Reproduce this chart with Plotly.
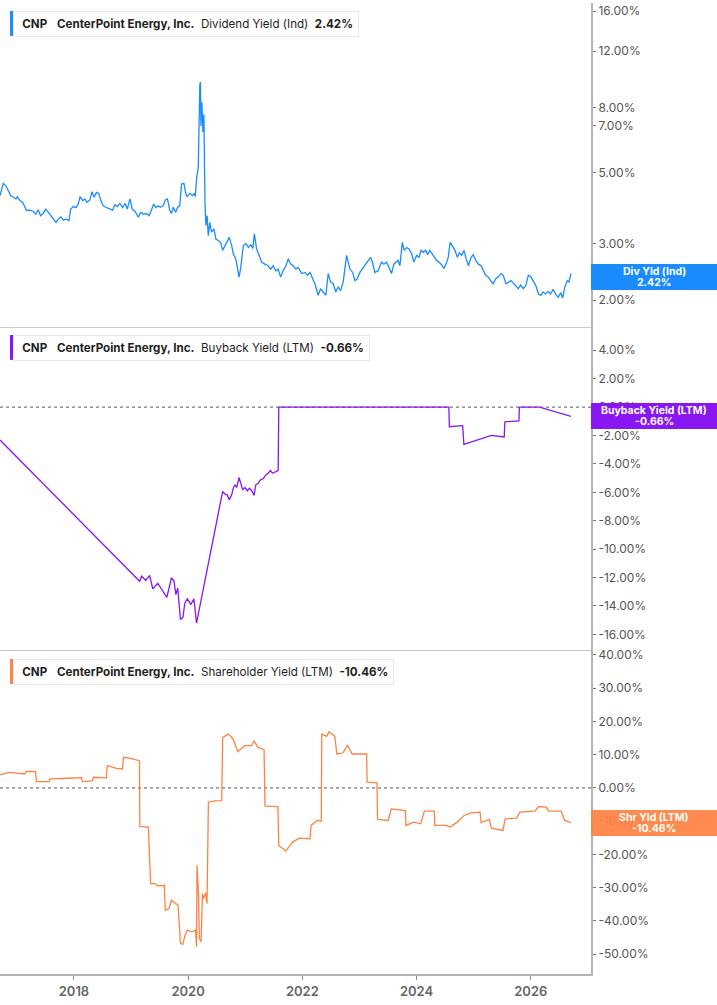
import math
import plotly.graph_objects as go
from plotly.subplots import make_subplots

# ---------------- data ----------------
div_dates = [
    "2016-09-15", "2016-09-26", "2016-10-06", "2016-10-23", "2016-11-07", "2016-11-22", "2016-12-09",
    "2016-12-26", "2017-01-04", "2017-01-21", "2017-02-07", "2017-02-22", "2017-03-04", "2017-03-24",
    "2017-04-15", "2017-05-02", "2017-05-17", "2017-06-01", "2017-06-18", "2017-07-05", "2017-07-20",
    "2017-08-11", "2017-09-08", "2017-09-23", "2017-10-08", "2017-10-25", "2017-11-15", "2017-11-30",
    "2017-12-11", "2017-12-28", "2018-01-14", "2018-01-29", "2018-02-09", "2018-02-26", "2018-03-11",
    "2018-03-26", "2018-04-13", "2018-04-27", "2018-05-10", "2018-05-25", "2018-06-09", "2018-06-22",
    "2018-07-07", "2018-07-24", "2018-08-14", "2018-09-05", "2018-09-20", "2018-10-05", "2018-10-22",
    "2018-11-08", "2018-11-25", "2018-12-08", "2018-12-25", "2019-01-09", "2019-01-26", "2019-02-17",
    "2019-03-03", "2019-03-23", "2019-04-10", "2019-04-27", "2019-05-11", "2019-05-26", "2019-06-08",
    "2019-06-23", "2019-07-08", "2019-07-25", "2019-08-09", "2019-08-22", "2019-09-06", "2019-09-17",
    "2019-09-28", "2019-10-13", "2019-10-26", "2019-11-09", "2019-11-20", "2019-12-05", "2019-12-18",
    "2019-12-26", "2020-01-12", "2020-01-30", "2020-02-10", "2020-02-16", "2020-02-25", "2020-03-06",
    "2020-03-16", "2020-03-20", "2020-03-23", "2020-03-29", "2020-04-05", "2020-04-11", "2020-04-18",
    "2020-04-24", "2020-05-02", "2020-05-09", "2020-05-19", "2020-05-30", "2020-06-14", "2020-06-27",
    "2020-07-11", "2020-07-27", "2020-08-09", "2020-08-24", "2020-09-07", "2020-09-20", "2020-10-06",
    "2020-10-16", "2020-11-01", "2020-11-11", "2020-11-22", "2020-12-03", "2020-12-19", "2021-01-05",
    "2021-01-21", "2021-02-05", "2021-02-18", "2021-02-28", "2021-03-14", "2021-03-30", "2021-04-15",
    "2021-05-06", "2021-05-27", "2021-06-11", "2021-06-28", "2021-07-15", "2021-07-30", "2021-08-15",
    "2021-08-31", "2021-09-18", "2021-10-02", "2021-10-18", "2021-11-03", "2021-11-21", "2021-12-06",
    "2021-12-28", "2022-01-18", "2022-02-02", "2022-02-19", "2022-03-08", "2022-03-22", "2022-04-12",
    "2022-04-27", "2022-05-14", "2022-05-31", "2022-06-15", "2022-06-30", "2022-07-17", "2022-08-03",
    "2022-08-18", "2022-09-02", "2022-09-19", "2022-10-11", "2022-11-01", "2022-11-19", "2022-12-03",
    "2022-12-18", "2023-01-04", "2023-01-26", "2023-02-12", "2023-02-27", "2023-03-13", "2023-03-25",
    "2023-04-09", "2023-04-30", "2023-05-22", "2023-06-06", "2023-06-23", "2023-07-09", "2023-07-25",
    "2023-08-09", "2023-09-05", "2023-09-17", "2023-10-02", "2023-10-14", "2023-10-30", "2023-11-14",
    "2023-12-01", "2023-12-15", "2024-01-02", "2024-01-17", "2024-01-30", "2024-02-14", "2024-02-29",
    "2024-03-12", "2024-03-26", "2024-04-10", "2024-04-23", "2024-05-08", "2024-05-23", "2024-06-09",
    "2024-06-24", "2024-07-07", "2024-07-22", "2024-08-03", "2024-08-16", "2024-09-03", "2024-09-18",
    "2024-10-01", "2024-10-16", "2024-10-31", "2024-11-13", "2024-11-28", "2024-12-15", "2024-12-29",
    "2025-01-14", "2025-01-31", "2025-02-17", "2025-03-04", "2025-03-17", "2025-04-03", "2025-04-21",
    "2025-05-05", "2025-05-20", "2025-06-07", "2025-06-24", "2025-07-09", "2025-07-26", "2025-08-10",
    "2025-08-27", "2025-09-11", "2025-09-26", "2025-10-13", "2025-10-28", "2025-11-14", "2025-11-30",
    "2025-12-16", "2026-01-02", "2026-01-17", "2026-02-02", "2026-02-19", "2026-03-06", "2026-03-21",
    "2026-04-05", "2026-04-22", "2026-05-07", "2026-05-24", "2026-06-08", "2026-06-25", "2026-07-12",
    "2026-07-23", "2026-08-07", "2026-08-22", "2026-09-02", "2026-09-15",
]
div_yield = [
    4.24, 4.50, 4.63, 4.55, 4.39, 4.24, 4.19,
    4.14, 4.21, 4.09, 4.04, 3.92, 3.81, 3.82,
    3.79, 3.71, 3.83, 3.67, 3.73, 3.85, 3.76,
    3.63, 3.50, 3.58, 3.64, 3.56, 3.58, 3.54,
    3.85, 3.92, 3.89, 3.99, 4.21, 4.09, 4.14,
    4.04, 4.11, 4.36, 4.19, 4.34, 4.31, 4.09,
    3.94, 3.90, 3.87, 3.82, 3.97, 3.92, 4.01,
    3.89, 4.01, 3.85, 4.14, 3.85, 3.79, 3.63,
    3.76, 3.71, 3.73, 3.67, 3.82, 3.99, 3.89,
    3.94, 3.90, 3.94, 4.11, 4.14, 3.81, 3.73,
    3.90, 3.76, 3.90, 3.94, 4.61, 4.63, 4.29,
    4.21, 4.31, 4.24, 4.31, 4.21, 4.83, 5.19,
    9.40, 9.60, 7.00, 8.30, 6.70, 7.60, 4.04,
    3.42, 3.67, 3.18, 3.50, 3.26, 3.34, 3.10,
    3.07, 3.03, 2.86, 2.96, 3.07, 3.14, 2.96,
    2.79, 2.69, 2.50, 2.36, 2.53, 2.96, 3.00,
    2.92, 2.98, 2.90, 3.22, 2.89, 2.76, 2.63,
    2.59, 2.56, 2.50, 2.56, 2.47, 2.50, 2.36,
    2.47, 2.56, 2.69, 2.59, 2.56, 2.50, 2.53,
    2.42, 2.44, 2.39, 2.44, 2.33, 2.25, 2.07,
    2.17, 2.12, 2.07, 2.42, 2.28, 2.25, 2.12,
    2.20, 2.14, 2.28, 2.76, 2.50, 2.44, 2.30,
    2.33, 2.44, 2.53, 2.59, 2.66, 2.72, 2.63,
    2.44, 2.47, 2.63, 2.59, 2.63, 2.53, 2.42,
    2.59, 2.66, 2.56, 3.03, 2.86, 2.92, 2.89,
    2.79, 2.63, 2.76, 2.72, 2.86, 2.82, 2.86,
    2.77, 2.86, 2.79, 2.72, 2.66, 2.63, 2.58,
    2.51, 2.59, 2.72, 3.03, 2.96, 2.86, 2.72,
    2.81, 2.76, 2.86, 2.69, 2.56, 2.72, 2.77,
    2.66, 2.59, 2.56, 2.47, 2.40, 2.36, 2.30,
    2.25, 2.33, 2.36, 2.42, 2.39, 2.25, 2.28,
    2.30, 2.26, 2.22, 2.17, 2.23, 2.17, 2.22,
    2.39, 2.36, 2.28, 2.22, 2.09, 2.07, 2.12,
    2.09, 2.13, 2.09, 2.16, 2.09, 2.04, 2.11,
    2.03, 2.20, 2.30, 2.28, 2.42,
]

bb_dates = [
    "2016-09-15", "2019-02-25", "2019-03-10", "2019-04-05", "2019-04-30", "2019-05-20", "2019-06-21",
    "2019-07-16", "2019-08-18", "2019-09-16", "2019-10-02", "2019-10-15", "2019-10-27", "2019-11-13",
    "2019-11-29", "2019-12-11", "2019-12-27", "2020-01-19", "2020-02-07", "2020-02-24", "2020-08-09",
    "2020-08-24", "2020-09-07", "2020-09-20", "2020-10-06", "2020-10-16", "2020-10-27", "2020-11-07",
    "2020-11-22", "2020-12-03", "2020-12-15", "2020-12-30", "2021-01-14", "2021-01-27", "2021-02-12",
    "2021-02-26", "2021-03-09", "2021-03-24", "2021-04-08", "2021-04-25", "2021-05-12", "2021-05-27",
    "2021-06-11", "2021-06-24", "2021-07-09", "2021-07-30", "2021-08-03", "2024-07-26", "2024-07-29",
    "2024-10-22", "2024-10-30", "2025-01-13", "2025-04-24", "2025-07-15", "2025-07-19", "2025-10-17",
    "2025-10-20", "2026-02-26", "2026-09-02", "2026-09-15",
]
buyback_yield = [
    -2.32, -12.26, -11.90, -12.20, -11.84, -12.80, -12.40,
    -12.80, -13.40, -12.05, -12.20, -13.20, -12.75, -14.95,
    -14.80, -13.80, -13.50, -13.90, -13.50, -15.20, -5.94,
    -6.13, -6.18, -6.53, -6.18, -5.71, -5.47, -5.66,
    -4.96, -5.36, -5.83, -5.66, -5.90, -5.71, -5.90,
    -6.22, -5.47, -5.36, -5.12, -5.05, -4.77, -4.66,
    -4.47, -4.66, -4.59, -4.47, 0.00, 0.00, -1.38,
    -1.30, -2.62, -2.35, -1.99, -2.10, -1.03, -0.97,
    0.00, 0.00, -0.63, -0.66,
]

shr_dates = [
    "2016-09-15", "2016-11-12", "2017-02-22", "2017-03-02", "2017-04-30", "2017-05-06", "2017-07-26",
    "2017-08-01", "2017-11-28", "2018-02-18", "2018-02-24", "2018-04-28", "2018-05-06", "2018-07-27",
    "2018-08-02", "2018-09-30", "2018-11-07", "2018-11-14", "2018-12-27", "2019-02-24", "2019-02-26",
    "2019-04-22", "2019-05-06", "2019-06-04", "2019-06-19", "2019-08-02", "2019-08-08", "2019-09-01",
    "2019-09-16", "2019-10-15", "2019-10-29", "2019-11-13", "2019-11-28", "2019-12-13", "2019-12-27",
    "2020-01-25", "2020-02-18", "2020-02-24", "2020-02-27", "2020-03-07", "2020-03-13", "2020-03-24",
    "2020-04-02", "2020-04-10", "2020-04-22", "2020-05-01", "2020-05-10", "2020-06-20", "2020-08-03",
    "2020-08-09", "2020-09-16", "2020-10-15", "2020-11-14", "2020-12-27", "2021-02-11", "2021-02-25",
    "2021-03-24", "2021-05-01", "2021-05-07", "2021-07-28", "2021-08-03", "2021-09-17", "2021-10-30",
    "2021-12-13", "2022-02-19", "2022-02-25", "2022-04-08", "2022-05-02", "2022-05-05", "2022-06-06",
    "2022-06-20", "2022-07-28", "2022-08-09", "2022-09-17", "2022-10-16", "2022-11-15", "2023-01-12",
    "2023-02-16", "2023-02-19", "2023-04-23", "2023-04-27", "2023-07-05", "2023-07-23", "2023-10-22",
    "2023-10-25", "2023-12-14", "2024-01-28", "2024-02-20", "2024-04-24", "2024-04-27", "2024-07-06",
    "2024-08-04", "2024-09-17", "2024-10-31", "2024-12-14", "2025-02-11", "2025-02-17", "2025-04-10",
    "2025-04-24", "2025-07-07", "2025-07-21", "2025-10-03", "2025-10-23", "2026-01-28", "2026-02-20",
    "2026-04-10", "2026-04-25", "2026-07-15", "2026-08-05", "2026-09-15",
]
shr_yield = [
    3.9, 4.7, 4.2, 5.0, 4.9, 1.9, 1.9,
    2.7, 2.9, 3.1, 1.9, 2.1, 3.2, 3.0,
    6.7, 5.9, 5.7, 9.2, 8.9, 8.2, -11.6,
    -11.8, -28.8, -28.8, -29.5, -29.3, -36.8, -36.3,
    -33.8, -34.8, -35.3, -46.8, -47.1, -44.3, -42.8,
    -43.3, -42.8, -47.8, -23.3, -31.3, -45.3, -46.3,
    -31.8, -33.3, -31.5, -34.8, -4.3, -3.9, -3.8,
    15.2, 16.2, 14.7, 10.9, 12.7, 12.7, 14.2,
    12.2, 11.5, -5.5, -5.6, -17.3, -19.0, -16.3,
    -15.1, -15.3, -11.3, -9.8, -10.0, 16.2, 15.5,
    16.9, 15.5, 10.2, 10.5, 12.9, 10.2, 10.2,
    10.2, 1.7, 1.5, -9.5, -9.8, -6.3, -6.8,
    -11.3, -10.3, -10.8, -7.0, -7.0, -11.3, -11.3,
    -11.8, -10.3, -8.3, -7.5, -7.3, -10.5, -9.5,
    -12.1, -12.8, -9.3, -9.1, -7.3, -7.0, -5.6,
    -5.8, -7.0, -7.0, -9.8, -10.46,
]

div_ticks = [2, 3, 5, 7, 8, 12, 16]
bb_ticks = [-16, -14, -12, -10, -8, -6, -4, -2, 0, 2, 4]
shr_ticks = [-50, -40, -30, -20, -10, 0, 10, 20, 30, 40]

ticker = "CNP"
company = "CenterPoint Energy, Inc."
panel_names = ["Dividend Yield (Ind)", "Buyback Yield (LTM)", "Shareholder Yield (LTM)"]
tag_names = ["Div Yld (Ind)", "Buyback Yield (LTM)", "Shr Yld (LTM)"]
last_values = [2.42, -0.66, -10.46]

assert len(div_dates) == len(div_yield)
assert len(bb_dates) == len(buyback_yield)
assert len(shr_dates) == len(shr_yield)

BLUE = "#1a8cff"
PURPLE = "#8a16f2"
ORANGE = "#ff8243"
colors = [BLUE, PURPLE, ORANGE]

FONT = "Inter"
W, H = 717, 1005
ML, MR, MT, MB = 0, 126, 0, 31
PW = W - ML - MR
PH = H - MT - MB

# ---------------- figure ----------------
fig = make_subplots(rows=3, cols=1, shared_xaxes=True, vertical_spacing=0)

fig.add_trace(go.Scatter(x=div_dates, y=div_yield, mode="lines",
                         line=dict(color=BLUE, width=1.3), hoverinfo="skip"), row=1, col=1)
fig.add_trace(go.Scatter(x=bb_dates, y=buyback_yield, mode="lines",
                         line=dict(color=PURPLE, width=1.3), hoverinfo="skip"), row=2, col=1)
fig.add_trace(go.Scatter(x=shr_dates, y=shr_yield, mode="lines",
                         line=dict(color=ORANGE, width=1.3), hoverinfo="skip"), row=3, col=1)

b1 = 1 - 325 / PH
b2 = 1 - 649 / PH

tickfont = dict(family=FONT, size=12, color="#555555")
yax_common = dict(side="right", showgrid=False, zeroline=False, showline=True,
                  linecolor="#b4b4b4", linewidth=2, ticks="outside", ticklen=3,
                  tickcolor="#777777", tickwidth=1, tickfont=tickfont, fixedrange=True)

fig.update_layout(
    yaxis=dict(type="log", domain=[b1, 1], range=[0.2169, 1.2293],
               tickvals=div_ticks, ticktext=[f"{v:.2f}%" for v in div_ticks], **yax_common),
    yaxis2=dict(domain=[b2, b1], range=[-17.10, 5.64],
                tickvals=bb_ticks, ticktext=[f"{v:.2f}%" for v in bb_ticks], **yax_common),
    yaxis3=dict(domain=[0, b2], range=[-56.0, 41.5],
                tickvals=shr_ticks, ticktext=[f"{v:.2f}%" for v in shr_ticks], **yax_common),
)

xr = ["2016-09-15", "2027-01-21"]
for i in (1, 2, 3):
    key = "xaxis" if i == 1 else f"xaxis{i}"
    fig.layout[key].update(range=xr, type="date", showgrid=False, zeroline=False,
                           showline=True, linecolor="#c8c8c8", linewidth=1, fixedrange=True)
fig.layout.xaxis3.update(tick0="2018-01-01", dtick="M24", tickformat="%Y",
                         ticks="outside", ticklen=4, tickcolor="#888888", showticklabels=True,
                         tickfont=dict(family=FONT, size=13, color="#666666", weight=600),
                         linecolor="#b4b4b4", linewidth=2)

# zero reference lines
for yref in ("y2", "y3"):
    fig.add_shape(type="line", xref="paper", x0=0, x1=1, yref=yref, y0=0, y1=0,
                  line=dict(color="#555555", width=1, dash="dot"), layer="below")

# legend boxes (top-left of each panel)
box_tops = [8, 333, 658]
nb = "\u00a0"
for k in range(3):
    top = box_tops[k]
    txt = (f"{nb}<b>{ticker}</b>{nb*3}<b>{company}</b>{nb*2}{panel_names[k]}"
           f"{nb*2}<b>{last_values[k]:.2f}%</b>")
    fig.add_shape(type="rect", xref="paper", yref="paper",
                  x0=10 / PW, x1=13.5 / PW, y0=1 - (top + 25) / PH, y1=1 - top / PH,
                  fillcolor=colors[k], line=dict(width=0), layer="above")
    fig.add_annotation(xref="paper", yref="paper", x=13 / PW, y=1 - top / PH,
                       xanchor="left", yanchor="top", text=txt, showarrow=False,
                       font=dict(family=FONT, size=11.6, color="#1e1e1e"),
                       bgcolor="white", bordercolor="#e8e8e8", borderwidth=1, borderpad=5,
                       align="left")

# value tags on the right axis
tag_refs = ["y", "y2", "y3"]
tag_y = [math.log10(last_values[0]), last_values[1], last_values[2]]
tag_shift = [-3, 0, 0]
tag_bg = [BLUE, PURPLE, "rgba(255,130,67,0.93)"]
for k in range(3):
    fig.add_annotation(xref="paper", yref=tag_refs[k], x=1, y=tag_y[k], xanchor="left",
                       yanchor="middle", text=nb, showarrow=False, width=MR, height=26,
                       bgcolor=tag_bg[k], borderpad=0, borderwidth=0, yshift=tag_shift[k],
                       font=dict(size=10))
    fig.add_annotation(xref="paper", yref=tag_refs[k], x=1 + (MR / 2) / PW, y=tag_y[k],
                       xanchor="center", yanchor="middle", text=f"<b>{tag_names[k]}</b>",
                       showarrow=False, yshift=tag_shift[k] + 5.5,
                       font=dict(family=FONT, size=10.5, color="white"))
    fig.add_annotation(xref="paper", yref=tag_refs[k], x=1 + (MR / 2) / PW, y=tag_y[k],
                       xanchor="center", yanchor="middle", text=f"<b>{last_values[k]:.2f}%</b>",
                       showarrow=False, yshift=tag_shift[k] - 5.5,
                       font=dict(family=FONT, size=10.5, color="white"))

fig.update_layout(width=W, height=H, margin=dict(l=ML, r=MR, t=MT, b=MB),
                  paper_bgcolor="white", plot_bgcolor="white", showlegend=False,
                  font=dict(family=FONT))

fig.write_html("out.html", config={"displayModeBar": False, "staticPlot": True},
               post_script="document.body.style.margin='0';")
